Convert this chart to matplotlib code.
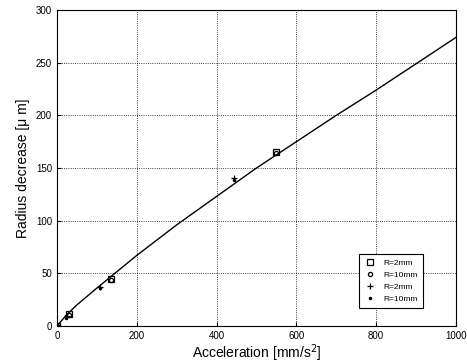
import matplotlib
matplotlib.use("Agg")
import matplotlib.pyplot as plt

plt.rcParams['font.family'] = ['Liberation Sans', 'DejaVu Sans']

# fitted curve
curve_x = [0, 25, 50, 100, 200, 300, 400, 500, 600, 700, 800, 900, 1000]
curve_y = [0, 11, 20, 36, 67, 96, 123, 150, 175, 200, 224, 249, 274]

# measured points
sq_x = [0, 30, 135, 550]
sq_y = [0, 11, 45, 165]
ci_x = [0, 30, 135, 550]
ci_y = [0, 10, 44, 164]
pl_x = [0, 25, 108, 445]
pl_y = [0, 9, 37, 141]
dt_x = [0, 22, 108, 445]
dt_y = [0, 8, 36, 139]

xticks = [0, 200, 400, 600, 800, 1000]
yticks = [0, 50, 100, 150, 200, 250, 300]

fig = plt.figure(figsize=(4.67, 3.63), dpi=100)
ax = fig.add_axes([0.122, 0.102, 0.854, 0.870])

ax.plot(curve_x, curve_y, color='black', lw=1.0)
ax.plot(sq_x, sq_y, 's', mfc='none', mec='black', ms=4, mew=0.9, label='R=2mm')
ax.plot(ci_x, ci_y, 'o', mfc='none', mec='black', ms=3, mew=0.9, label='R=10mm')
ax.plot(pl_x, pl_y, '+', color='black', ms=4, mew=0.9, label='R=2mm')
ax.plot(dt_x, dt_y, '.', color='black', ms=3, label='R=10mm')

ax.set_xlim(0, 1000)
ax.set_ylim(0, 300)
ax.set_xticks(xticks)
ax.set_yticks(yticks)
ax.tick_params(direction='in', length=3, labelsize=7, width=0.8)
ax.grid(True, color='black', linestyle=':', linewidth=0.6)
for s in ax.spines.values():
    s.set_linewidth(0.8)

ax.set_xlabel('Acceleration [mm/s$^2$]', fontsize=10, labelpad=1)
ax.set_ylabel('Radius decrease [\u03bc m]', fontsize=10, labelpad=4)

leg = ax.legend(loc='lower right', bbox_to_anchor=(0.928, 0.045), fontsize=6,
                frameon=True, fancybox=False, edgecolor='black', framealpha=1,
                handlelength=1.6, borderpad=0.6, labelspacing=0.5)
leg.get_frame().set_linewidth(0.8)

fig.savefig('out.png', dpi=100)
